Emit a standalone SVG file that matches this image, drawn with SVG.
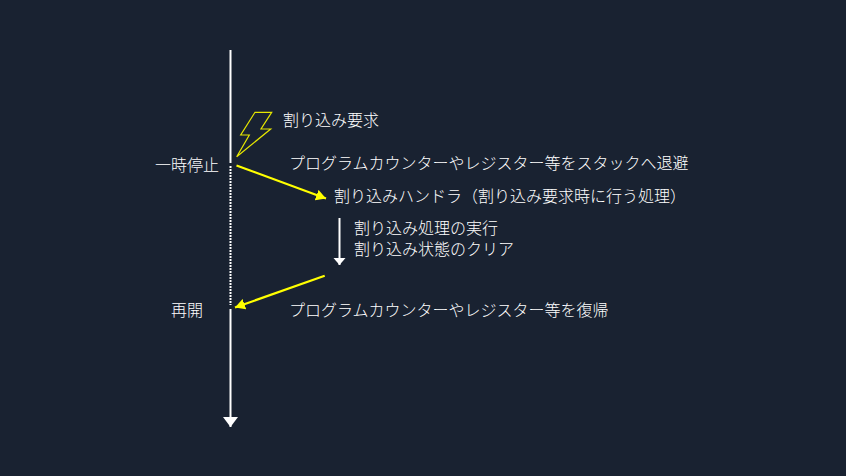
<svg xmlns="http://www.w3.org/2000/svg" width="846" height="476" viewBox="0 0 846 476">
<style>
text{font-family:"Noto Sans CJK JP","Noto Sans",sans-serif;font-size:16px;font-weight:300;fill:#fff}
.w{stroke:#fff;stroke-width:2;fill:none}
.y{stroke:#ff0;stroke-width:2.200;fill:none}
</style>
<defs>
<marker id="wa" markerUnits="userSpaceOnUse" markerWidth="15" markerHeight="16" refX="10" refY="8" orient="auto"><path d="M0 0.500L10 8L0 15.500Z" fill="#fff"/></marker>
<marker id="wb" markerUnits="userSpaceOnUse" markerWidth="8" markerHeight="14" refX="7" refY="7" orient="auto"><path d="M0 1L7 7L0 13Z" fill="#fff"/></marker>
<marker id="ya" markerUnits="userSpaceOnUse" markerWidth="12" markerHeight="12" refX="10" refY="6" orient="auto"><path d="M0 0.500L10 6L0 11.500Z" fill="#ff0"/></marker>
</defs>
<rect width="846" height="476" fill="#192231"/>
<g id="connectors">
<path class="w" d="M230.500 50V163"/>
<path class="w" d="M230.500 166V305" stroke-dasharray="2 1" stroke-width="2.500"/>
<path class="w" d="M230.500 309V427" marker-end="url(#wa)"/>
<path class="y" d="M236.500 165.500L326 198.500" marker-end="url(#ya)"/>
<path class="w" d="M339.500 218V265" marker-end="url(#wb)"/>
<path class="y" d="M324.700 275.700L235 307.500" marker-end="url(#ya)"/>
</g>
<g id="bolt"><path d="M236.700 156.700L249.300 135H240.700L255 112.300H271.700L261 129H270.700Z" fill="none" stroke="#e6e600" stroke-width="1.200"/></g>
<g id="n-req"><text x="283" y="126">割り込み要求</text></g>
<g id="n-stop"><text x="155" y="171">一時停止</text></g>
<g id="n-save"><text x="289" y="169">プログラムカウンターやレジスター等をスタックへ退避</text></g>
<g id="n-handler"><text x="334" y="202">割り込みハンドラ（割り込み要求時に行う処理）</text></g>
<g id="n-exec"><text><tspan x="354" y="234">割り込み処理の実行</tspan><tspan x="354" y="255">割り込み状態のクリア</tspan></text></g>
<g id="n-resume"><text x="171" y="316">再開</text></g>
<g id="n-restore"><text x="289" y="316">プログラムカウンターやレジスター等を復帰</text></g>
</svg>
